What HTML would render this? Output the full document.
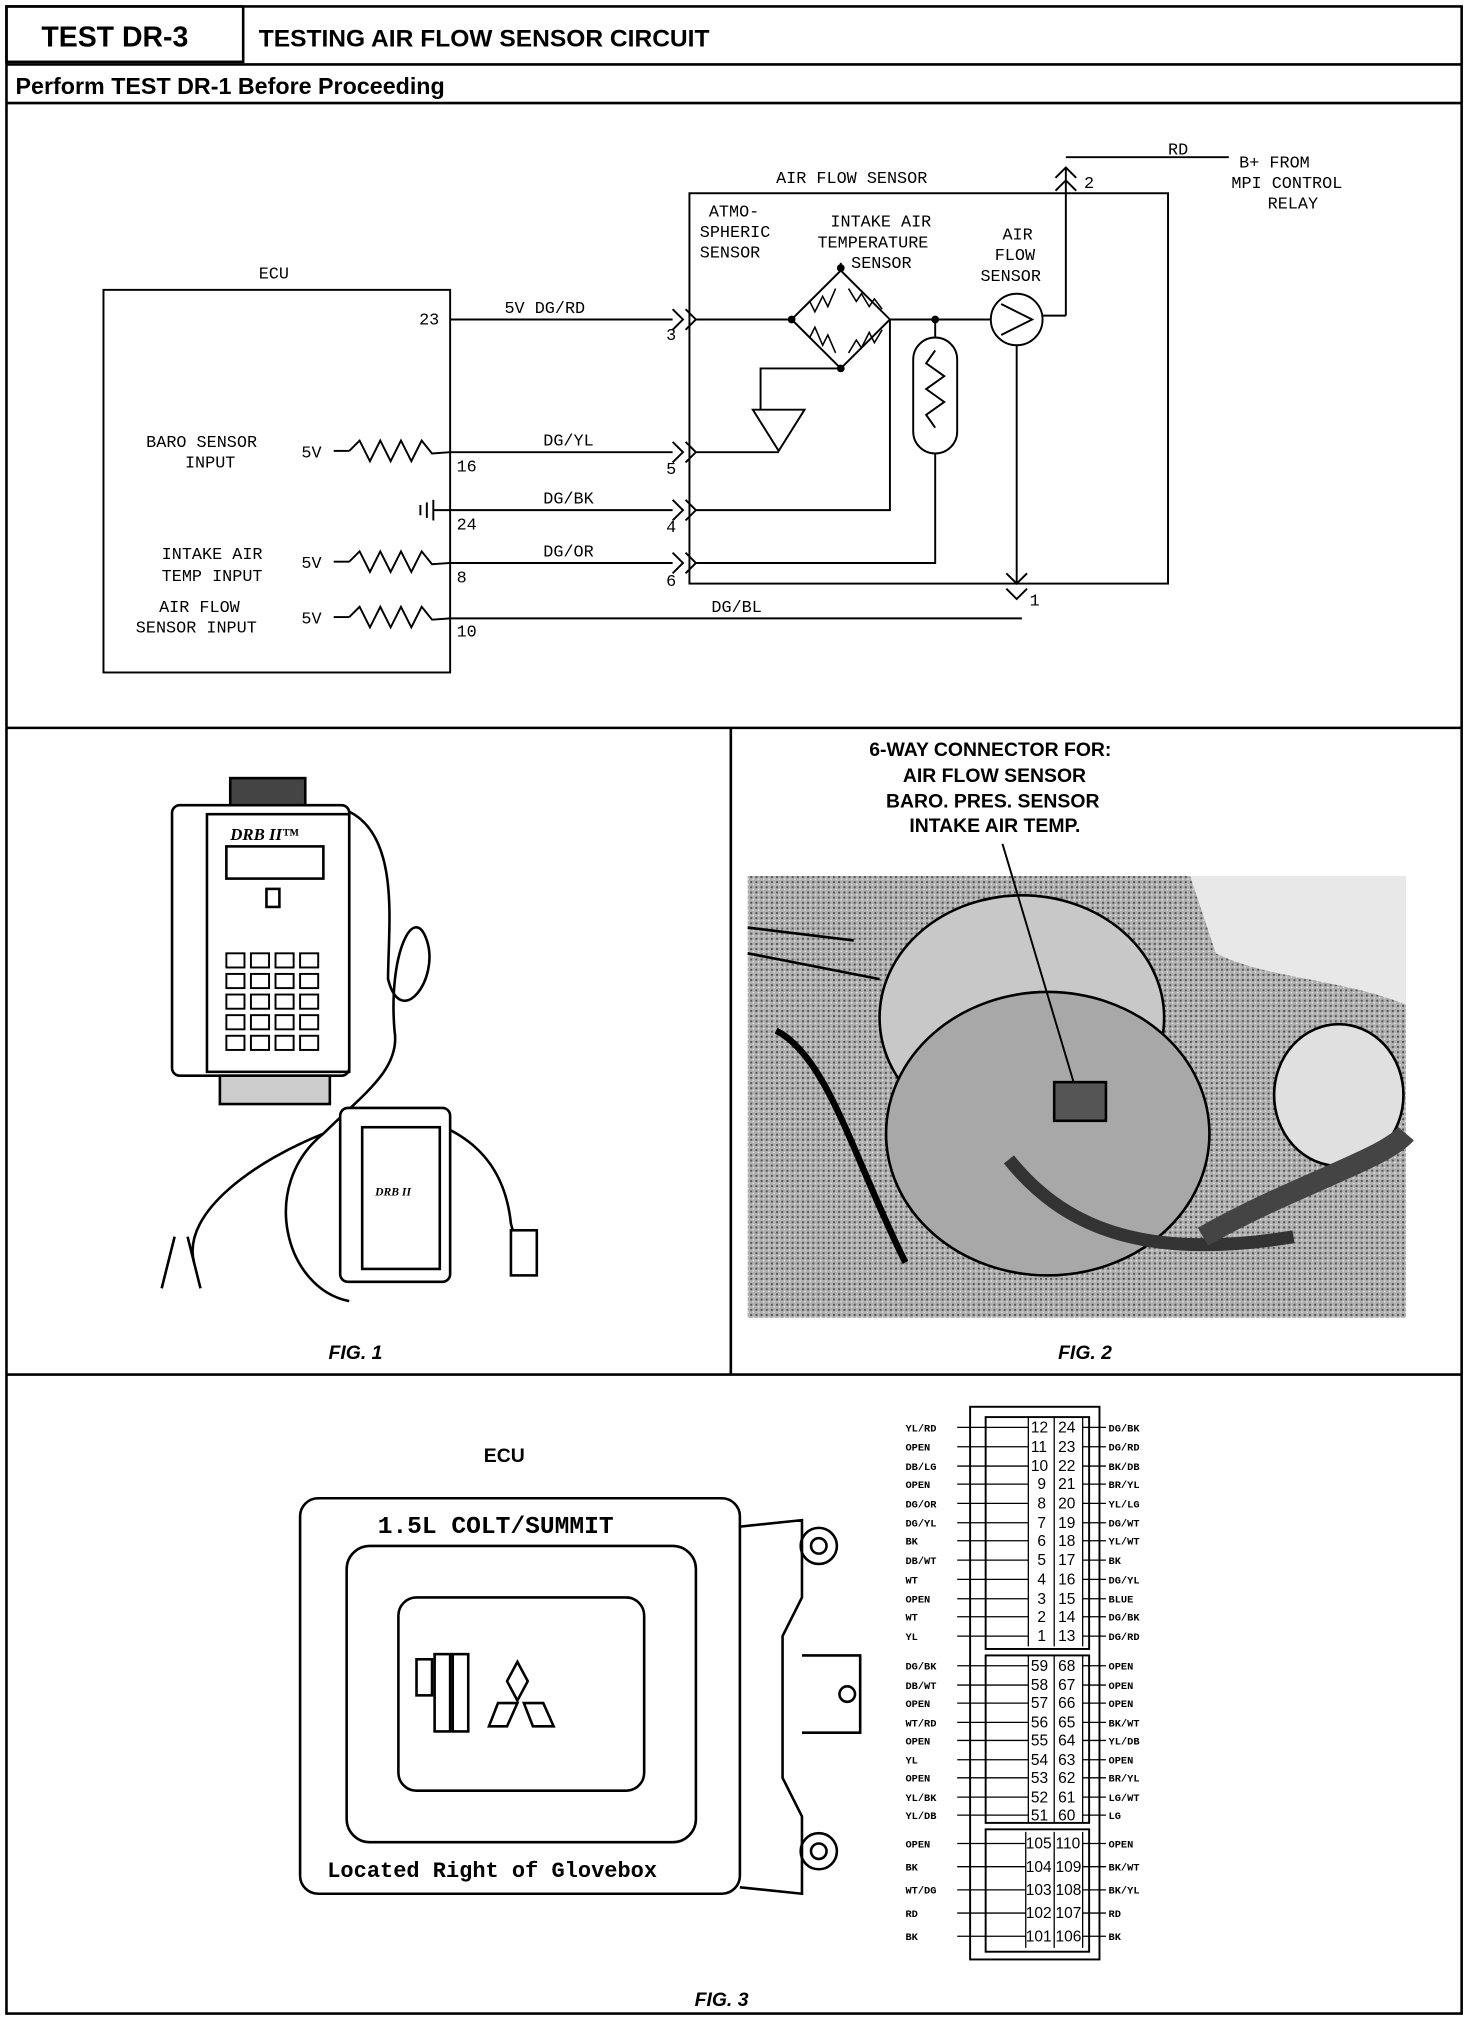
<!DOCTYPE html>
<html><head><meta charset="utf-8"><style>
html,body{margin:0;padding:0;background:#fff}
svg{display:block}
.m{font-family:"Liberation Mono",monospace;font-size:13px;fill:#000}
.b{font-family:"Liberation Sans",sans-serif;font-weight:bold;fill:#000}
.s{font-family:"Liberation Mono",monospace;font-size:8px;font-weight:bold;fill:#000}
</style></head><body>
<svg width="1472" height="2020" viewBox="0 0 1138 1568" preserveAspectRatio="none" xmlns="http://www.w3.org/2000/svg">
<defs>
<pattern id="dots" width="4" height="4" patternUnits="userSpaceOnUse">
<rect width="4" height="4" fill="#b0b0b0"/><rect width="1.5" height="1.5" fill="#555"/><rect x="2" y="2" width="1" height="1" fill="#eee"/>
</pattern>
</defs>
<rect x="0" y="0" width="1138" height="1568" fill="#fff"/>
<g fill="none" stroke="#000" stroke-width="2">
<rect x="5" y="5" width="1125" height="1558"/>
<rect x="5" y="5" width="183" height="43"/>
<line x1="5" y1="50" x2="1130" y2="50"/>
<line x1="5" y1="80" x2="1130" y2="80"/>
<line x1="5" y1="565" x2="1130" y2="565"/>
<line x1="565" y1="565" x2="565" y2="1067"/>
<line x1="5" y1="1067" x2="1130" y2="1067"/>
</g>
<text class="b" x="32" y="36" font-size="22">TEST DR-3</text>
<text class="b" x="200" y="36" font-size="19">TESTING AIR FLOW SENSOR CIRCUIT</text>
<text class="b" x="12" y="73" font-size="18">Perform TEST DR-1 Before Proceeding</text>

<!-- schematic -->
<g fill="none" stroke="#000" stroke-width="1.5">
<rect x="80" y="225" width="268" height="297"/>
<rect x="533" y="150" width="370" height="303"/>
<line x1="348" y1="248" x2="520" y2="248"/>
<line x1="348" y1="351" x2="520" y2="351"/>
<line x1="348" y1="396" x2="520" y2="396"/>
<line x1="348" y1="437" x2="520" y2="437"/>
<line x1="348" y1="480" x2="790" y2="480"/>
<polyline points="520,240 528,248 520,256"/><polyline points="530,240 538,248 530,256"/>
<polyline points="520,343 528,351 520,359"/><polyline points="530,343 538,351 530,359"/>
<polyline points="520,388 528,396 520,404"/><polyline points="530,388 538,396 530,404"/>
<polyline points="520,429 528,437 520,445"/><polyline points="530,429 538,437 530,445"/>
<polyline points="778,445 786,453 794,445"/><polyline points="778,457 786,465 794,457"/>
<polyline points="816,138 824,130 832,138"/><polyline points="816,148 824,140 832,148"/>
<line x1="824" y1="122" x2="950" y2="122"/>
<line x1="824" y1="130" x2="824" y2="245"/>
<line x1="824" y1="245" x2="806" y2="245"/>
<line x1="538" y1="248" x2="612" y2="248"/>
<polygon points="612,248 650,210 688,248 650,286"/>
<polyline points="620,240 626,234 630,242 636,230 640,238 646,224" stroke-width="1.2"/>
<polyline points="656,224 662,234 666,228 672,238 676,232 682,240" stroke-width="1.2"/>
<polyline points="620,256 626,262 630,254 636,268 640,260 646,274" stroke-width="1.2"/>
<polyline points="656,274 662,264 666,270 672,258 676,266 682,256" stroke-width="1.2"/>
<line x1="688" y1="248" x2="766" y2="248"/>
<circle cx="786" cy="248" r="20"/>
<polyline points="774,236 798,248 774,260"/>
<line x1="786" y1="268" x2="786" y2="453"/>
<line x1="650" y1="210" x2="650" y2="204"/>
<polyline points="650,286 588,286 588,318"/>
<polygon points="582,318 622,318 602,350"/>
<line x1="538" y1="351" x2="602" y2="351"/>
<polyline points="688,248 688,396 538,396"/>
<rect x="706" y="262" width="34" height="90" rx="17"/>
<polyline points="723,262 723,248"/>
<polyline points="723,272 716,282 730,292 716,302 730,312 716,322 723,332"/>
<polyline points="723,352 723,437 538,437"/>
<polyline points="270,350 278,342 286,358 294,342 302,358 310,342 318,358 326,342 334,352 348,351"/>
<line x1="258" y1="350" x2="270" y2="350"/>
<polyline points="270,436 278,428 286,444 294,428 302,444 310,428 318,444 326,428 334,438 348,437"/>
<line x1="258" y1="436" x2="270" y2="436"/>
<polyline points="270,479 278,471 286,487 294,471 302,487 310,471 318,487 326,471 334,481 348,480"/>
<line x1="258" y1="479" x2="270" y2="479"/>
<line x1="335" y1="396" x2="348" y2="396"/>
<line x1="335" y1="388" x2="335" y2="404"/><line x1="330" y1="390" x2="330" y2="402"/><line x1="325" y1="392" x2="325" y2="400"/>
</g>
<g fill="#000"><circle cx="650" cy="208" r="3"/><circle cx="650" cy="286" r="3"/><circle cx="612" cy="248" r="3"/><circle cx="723" cy="248" r="3"/></g>
<text class="m" x="200" y="216">ECU</text>
<text class="m" x="324" y="252">23</text>
<text class="m" x="390" y="243">5V DG/RD</text>
<text class="m" x="515" y="264">3</text>
<text class="m" x="113" y="347">BARO SENSOR</text><text class="m" x="143" y="363">INPUT</text>
<text class="m" x="233" y="355">5V</text><text class="m" x="353" y="366">16</text>
<text class="m" x="420" y="346">DG/YL</text><text class="m" x="515" y="368">5</text>
<text class="m" x="353" y="411">24</text><text class="m" x="420" y="391">DG/BK</text><text class="m" x="515" y="413">4</text>
<text class="m" x="125" y="434">INTAKE AIR</text><text class="m" x="125" y="451">TEMP INPUT</text>
<text class="m" x="233" y="441">5V</text><text class="m" x="353" y="452">8</text>
<text class="m" x="420" y="432">DG/OR</text><text class="m" x="515" y="455">6</text>
<text class="m" x="123" y="475">AIR FLOW</text><text class="m" x="105" y="491">SENSOR INPUT</text>
<text class="m" x="233" y="484">5V</text><text class="m" x="353" y="494">10</text>
<text class="m" x="550" y="475">DG/BL</text><text class="m" x="796" y="470">1</text>
<text class="m" x="600" y="142">AIR FLOW SENSOR</text>
<text class="m" x="838" y="146">2</text>
<text class="m" x="903" y="120">RD</text>
<text class="m" x="958" y="130">B+ FROM</text><text class="m" x="952" y="146">MPI CONTROL</text><text class="m" x="980" y="162">RELAY</text>
<text class="m" x="548" y="168">ATMO-</text><text class="m" x="541" y="184">SPHERIC</text><text class="m" x="541" y="200">SENSOR</text>
<text class="m" x="642" y="176">INTAKE AIR</text><text class="m" x="632" y="192">TEMPERATURE</text><text class="m" x="658" y="208">SENSOR</text>
<text class="m" x="775" y="186">AIR</text><text class="m" x="769" y="202">FLOW</text><text class="m" x="758" y="218">SENSOR</text>

<!-- Fig 1 -->
<g fill="none" stroke="#000" stroke-width="2">
<rect x="178" y="604" width="58" height="22" fill="#444"/>
<rect x="133" y="625" width="137" height="210" rx="6" fill="#fff"/>
<rect x="160" y="632" width="110" height="200"/>
<rect x="175" y="657" width="75" height="25"/>
<rect x="206" y="690" width="10" height="14"/>
<rect x="170" y="835" width="85" height="22" fill="#ccc"/>
<path d="M270,630 C310,650 300,720 300,760 C310,800 340,760 330,730 C320,700 300,740 305,800 C310,830 280,850 250,880"/>
<path d="M250,880 C200,900 140,940 150,980 M250,880 C200,920 220,1000 270,1010 M290,860 C360,870 390,900 395,950 C400,970 410,975 410,985"/>
<rect x="263" y="860" width="85" height="135" rx="6" fill="#fff"/>
<rect x="280" y="875" width="60" height="110"/>
<rect x="395" y="955" width="20" height="35" fill="#fff"/>
<path d="M135,960 L125,1000 M145,960 L155,1000"/>
</g>
<g fill="#fff" stroke="#000" stroke-width="1.5">
<rect x="175" y="740" width="14" height="11"/><rect x="194" y="740" width="14" height="11"/><rect x="213" y="740" width="14" height="11"/><rect x="232" y="740" width="14" height="11"/>
<rect x="175" y="756" width="14" height="11"/><rect x="194" y="756" width="14" height="11"/><rect x="213" y="756" width="14" height="11"/><rect x="232" y="756" width="14" height="11"/>
<rect x="175" y="772" width="14" height="11"/><rect x="194" y="772" width="14" height="11"/><rect x="213" y="772" width="14" height="11"/><rect x="232" y="772" width="14" height="11"/>
<rect x="175" y="788" width="14" height="11"/><rect x="194" y="788" width="14" height="11"/><rect x="213" y="788" width="14" height="11"/><rect x="232" y="788" width="14" height="11"/>
<rect x="175" y="804" width="14" height="11"/><rect x="194" y="804" width="14" height="11"/><rect x="213" y="804" width="14" height="11"/><rect x="232" y="804" width="14" height="11"/>
</g>
<text x="178" y="652" font-family="Liberation Serif" font-style="italic" font-weight="bold" font-size="13">DRB II™</text>
<text x="290" y="928" font-family="Liberation Serif" font-style="italic" font-weight="bold" font-size="9">DRB II</text>
<text class="b" x="254" y="1055" font-size="15" font-style="italic">FIG. 1</text>

<!-- Fig 2 -->
<text class="b" x="672" y="587" font-size="15">6-WAY CONNECTOR FOR:</text>
<text class="b" x="698" y="607" font-size="15">AIR FLOW SENSOR</text>
<text class="b" x="685" y="627" font-size="15">BARO. PRES. SENSOR</text>
<text class="b" x="703" y="646" font-size="15">INTAKE AIR TEMP.</text>
<rect x="578" y="680" width="509" height="343" fill="url(#dots)"/>
<path d="M920,680 L1087,680 L1087,780 C1040,760 980,760 940,740 Z" fill="#e8e8e8"/>
<g fill="none" stroke="#000" stroke-width="2">
<ellipse cx="790" cy="790" rx="110" ry="95" fill="#c8c8c8"/>
<ellipse cx="810" cy="880" rx="125" ry="110" fill="#a8a8a8"/>
<ellipse cx="1035" cy="850" rx="50" ry="55" fill="#e0e0e0"/>
<path d="M780,900 C820,950 880,980 1000,960" stroke-width="10" stroke="#333"/>
<path d="M930,960 C1000,920 1070,900 1087,880" stroke-width="16" stroke="#444"/>
<path d="M600,800 C640,820 660,900 700,980" stroke-width="5"/>
<path d="M578,720 L660,730 M578,740 L680,760" stroke-width="2"/>
<line x1="775" y1="655" x2="830" y2="840" stroke-width="1.5"/>
<rect x="815" y="840" width="40" height="30" fill="#555"/>
</g>
<text class="b" x="818" y="1055" font-size="15" font-style="italic">FIG. 2</text>

<!-- Fig 3 ECU -->
<text class="b" x="374" y="1135" font-size="15">ECU</text>
<g fill="none" stroke="#000" stroke-width="2">
<rect x="232" y="1163" width="340" height="307" rx="14"/>
<rect x="268" y="1200" width="270" height="230" rx="18"/>
<rect x="308" y="1240" width="190" height="150" rx="14"/>
<path d="M572,1185 L620,1180 L620,1240 L605,1270 L605,1380 L620,1410 L620,1470 L572,1465"/>
<circle cx="633" cy="1200" r="14"/><circle cx="633" cy="1200" r="6"/>
<circle cx="633" cy="1437" r="14"/><circle cx="633" cy="1437" r="6"/>
<circle cx="655" cy="1315" r="6"/>
<path d="M620,1285 L665,1285 L665,1345 L620,1345"/>
<rect x="322" y="1288" width="12" height="28"/><rect x="336" y="1284" width="12" height="60"/><rect x="350" y="1284" width="12" height="60"/>
<path d="M400,1290 L392,1305 L400,1320 L408,1305 Z"/>
<path d="M385,1322 L400,1322 L392,1340 L378,1340 Z"/><path d="M405,1322 L420,1322 L428,1340 L412,1340 Z"/>
</g>
<text x="292" y="1190" font-family="Liberation Mono" font-weight="bold" font-size="19">1.5L COLT/SUMMIT</text>
<text x="253" y="1457" font-family="Liberation Mono" font-weight="bold" font-size="17">Located Right of Glovebox</text>
<text class="b" x="537" y="1557" font-size="15" font-style="italic">FIG. 3</text>

<!-- connector -->
<g fill="none" stroke="#000" stroke-width="1.5">
<rect x="750" y="1092" width="100" height="429"/>
<rect x="762" y="1100" width="80" height="180"/>
<rect x="762" y="1285" width="80" height="130"/>
<rect x="762" y="1420" width="80" height="95"/>
</g>
<g class="s">
<text x="700" y="1111">YL/RD</text><text x="700" y="1126">OPEN</text><text x="700" y="1141">DB/LG</text><text x="700" y="1155">OPEN</text><text x="700" y="1170">DG/OR</text><text x="700" y="1185">DG/YL</text><text x="700" y="1199">BK</text><text x="700" y="1214">DB/WT</text><text x="700" y="1229">WT</text><text x="700" y="1244">OPEN</text><text x="700" y="1258">WT</text><text x="700" y="1273">YL</text>
<text x="857" y="1111">DG/BK</text><text x="857" y="1126">DG/RD</text><text x="857" y="1141">BK/DB</text><text x="857" y="1155">BR/YL</text><text x="857" y="1170">YL/LG</text><text x="857" y="1185">DG/WT</text><text x="857" y="1199">YL/WT</text><text x="857" y="1214">BK</text><text x="857" y="1229">DG/YL</text><text x="857" y="1244">BLUE</text><text x="857" y="1258">DG/BK</text><text x="857" y="1273">DG/RD</text>
<text x="700" y="1296">DG/BK</text><text x="700" y="1311">DB/WT</text><text x="700" y="1325">OPEN</text><text x="700" y="1340">WT/RD</text><text x="700" y="1354">OPEN</text><text x="700" y="1369">YL</text><text x="700" y="1383">OPEN</text><text x="700" y="1398">YL/BK</text><text x="700" y="1412">YL/DB</text>
<text x="857" y="1296">OPEN</text><text x="857" y="1311">OPEN</text><text x="857" y="1325">OPEN</text><text x="857" y="1340">BK/WT</text><text x="857" y="1354">YL/DB</text><text x="857" y="1369">OPEN</text><text x="857" y="1383">BR/YL</text><text x="857" y="1398">LG/WT</text><text x="857" y="1412">LG</text>
<text x="700" y="1434">OPEN</text><text x="700" y="1452">BK</text><text x="700" y="1470">WT/DG</text><text x="700" y="1488">RD</text><text x="700" y="1506">BK</text>
<text x="857" y="1434">OPEN</text><text x="857" y="1452">BK/WT</text><text x="857" y="1470">BK/YL</text><text x="857" y="1488">RD</text><text x="857" y="1506">BK</text>
</g>
<g font-family="Liberation Sans" font-size="12" fill="#000">
<text x="797" y="1112">12</text><text x="818" y="1112">24</text>
<text x="797" y="1127">11</text><text x="818" y="1127">23</text>
<text x="797" y="1142">10</text><text x="818" y="1142">22</text>
<text x="802" y="1156">9</text><text x="818" y="1156">21</text>
<text x="802" y="1171">8</text><text x="818" y="1171">20</text>
<text x="802" y="1186">7</text><text x="818" y="1186">19</text>
<text x="802" y="1200">6</text><text x="818" y="1200">18</text>
<text x="802" y="1215">5</text><text x="818" y="1215">17</text>
<text x="802" y="1230">4</text><text x="818" y="1230">16</text>
<text x="802" y="1245">3</text><text x="818" y="1245">15</text>
<text x="802" y="1259">2</text><text x="818" y="1259">14</text>
<text x="802" y="1274">1</text><text x="818" y="1274">13</text>
<text x="797" y="1297">59</text><text x="818" y="1297">68</text>
<text x="797" y="1312">58</text><text x="818" y="1312">67</text>
<text x="797" y="1326">57</text><text x="818" y="1326">66</text>
<text x="797" y="1341">56</text><text x="818" y="1341">65</text>
<text x="797" y="1355">55</text><text x="818" y="1355">64</text>
<text x="797" y="1370">54</text><text x="818" y="1370">63</text>
<text x="797" y="1384">53</text><text x="818" y="1384">62</text>
<text x="797" y="1399">52</text><text x="818" y="1399">61</text>
<text x="797" y="1413">51</text><text x="818" y="1413">60</text>
<text x="793" y="1435">105</text><text x="816" y="1435">110</text>
<text x="793" y="1453">104</text><text x="816" y="1453">109</text>
<text x="793" y="1471">103</text><text x="816" y="1471">108</text>
<text x="793" y="1489">102</text><text x="816" y="1489">107</text>
<text x="793" y="1507">101</text><text x="816" y="1507">106</text>
</g>
<g stroke="#000" stroke-width="1" fill="none">
<path d="M795,1100 V1278 M815,1100 V1278 M837,1100 V1278"/>
<path d="M795,1285 V1415 M815,1285 V1415 M837,1285 V1415"/>
<path d="M793,1422 V1512 M815,1422 V1512 M837,1422 V1512"/>
<path d="M740,1108 H795 M740,1123 H795 M740,1138 H795 M740,1152 H795 M740,1167 H795 M740,1182 H795 M740,1196 H795 M740,1211 H795 M740,1226 H795 M740,1241 H795 M740,1255 H795 M740,1270 H795"/>
<path d="M837,1108 H855 M837,1123 H855 M837,1138 H855 M837,1152 H855 M837,1167 H855 M837,1182 H855 M837,1196 H855 M837,1211 H855 M837,1226 H855 M837,1241 H855 M837,1255 H855 M837,1270 H855"/>
<path d="M740,1293 H795 M740,1308 H795 M740,1322 H795 M740,1337 H795 M740,1351 H795 M740,1366 H795 M740,1380 H795 M740,1395 H795 M740,1409 H795"/>
<path d="M837,1293 H855 M837,1308 H855 M837,1322 H855 M837,1337 H855 M837,1351 H855 M837,1366 H855 M837,1380 H855 M837,1395 H855 M837,1409 H855"/>
<path d="M740,1431 H793 M740,1449 H793 M740,1467 H793 M740,1485 H793 M740,1503 H793"/>
<path d="M837,1431 H855 M837,1449 H855 M837,1467 H855 M837,1485 H855 M837,1503 H855"/>
</g>
</svg>
</body></html>
